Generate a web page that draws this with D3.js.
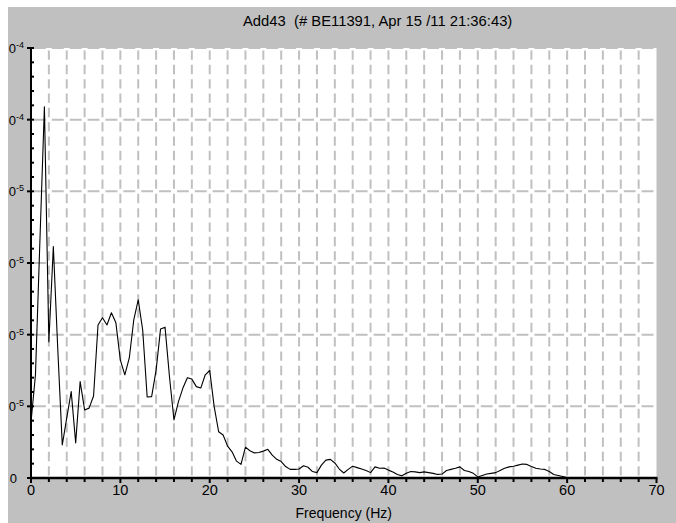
<!DOCTYPE html>
<html>
<head>
<meta charset="utf-8">
<script src="https://cdn.jsdelivr.net/npm/d3@7"></script>
<style>
  html, body { margin: 0; padding: 0; background: #ffffff; }
  svg { display: block; }
  text { font-family: "Liberation Sans", Arial, sans-serif; fill: #000; white-space: pre; }
</style>
</head>
<body>
<svg id="chart" width="676" height="523"></svg>
<script>
// ---------- data ----------
const title = "Add43  (# BE11391, Apr 15 /11 21:36:43)";
const xAxisTitle = "Frequency (Hz)";
const freqStep = 0.5; // Hz between spectrum bins
// amplitude in units of 1e-5, one value per 0.5 Hz bin from 0 to 60 Hz
const amplitude = [
  1.56, 2.88, 6.64, 10.36, 3.80, 6.46, 3.57, 0.92, 1.68, 2.41,
  0.98, 2.69, 1.90, 1.95, 2.29, 4.27, 4.47, 4.27, 4.61, 4.33,
  3.29, 2.88, 3.35, 4.41, 4.97, 4.13, 2.26, 2.27, 3.01, 4.16,
  4.21, 2.82, 1.62, 2.13, 2.51, 2.80, 2.76, 2.55, 2.51, 2.88,
  3.00, 1.99, 1.29, 1.20, 0.89, 0.73, 0.47, 0.38, 0.86, 0.76,
  0.70, 0.71, 0.75, 0.80, 0.64, 0.52, 0.46, 0.32, 0.24, 0.24,
  0.25, 0.34, 0.30, 0.18, 0.15, 0.36, 0.50, 0.52, 0.42, 0.25,
  0.14, 0.24, 0.33, 0.29, 0.25, 0.21, 0.15, 0.31, 0.27, 0.28,
  0.22, 0.17, 0.10, 0.06, 0.13, 0.18, 0.17, 0.15, 0.17, 0.15,
  0.13, 0.10, 0.11, 0.21, 0.24, 0.27, 0.31, 0.21, 0.18, 0.13,
  0.03, 0.07, 0.11, 0.13, 0.15, 0.21, 0.27, 0.31, 0.33, 0.36,
  0.39, 0.38, 0.32, 0.27, 0.25, 0.24, 0.18, 0.10, 0.07, 0.04,
  0.01
];
const frequencies = amplitude.map((_, i) => i * freqStep);
const xTicks = [0, 10, 20, 30, 40, 50, 60, 70];
const yTicks = [0, 2, 4, 6, 8, 10, 12];
// tick labels as they are visible in the panel (the leading digits are hidden at the edge)
const yTickMantissa = ["0", "0", "0", "0", "0", "0", "0"];
const yTickExponent = ["", "-5", "-5", "-5", "-5", "-4", "-4"];

// ---------- layout ----------
const W = 676, H = 523;
const svg = d3.select("#chart");
const plot = { left: 31, right: 656.5, top: 48, bottom: 478 };

const x = d3.scaleLinear().domain([0, 70]).range([plot.left, plot.right]);
const y = d3.scaleLinear().domain([0, 12]).range([plot.bottom, plot.top]);

// background
svg.append("rect").attr("x", 8).attr("y", 7).attr("width", W - 8).attr("height", H - 7)
  .attr("fill", "#c0c0c0");
svg.append("rect").attr("x", plot.left).attr("y", plot.top)
  .attr("width", plot.right - plot.left).attr("height", plot.bottom - plot.top)
  .attr("fill", "#ffffff");

const gridColor = "#c0c0c0";
const minorY = d3.range(0, 12.0001, 0.4);
const minorX = d3.range(0, 70.0001, 2);
const yStepPx = y(0) - y(0.4);
const xStepPx = x(2) - x(0);

// vertical grid lines
svg.append("g").selectAll("line").data(minorX.filter(d => d > 0 && d < 70)).join("line")
  .attr("x1", d => x(d)).attr("x2", d => x(d))
  .attr("y1", plot.bottom).attr("y2", plot.top)
  .attr("stroke", gridColor).attr("stroke-width", 2)
  .attr("stroke-dasharray", `${yStepPx - 5},5`)
  .attr("stroke-dashoffset", yStepPx - 2.5);

// horizontal grid lines
svg.append("g").selectAll("line").data(yTicks.filter(d => d > 0 && d < 12)).join("line")
  .attr("x1", plot.left).attr("x2", plot.right)
  .attr("y1", d => y(d)).attr("y2", d => y(d))
  .attr("stroke", gridColor).attr("stroke-width", 2)
  .attr("stroke-dasharray", `${xStepPx - 6},6`)
  .attr("stroke-dashoffset", -3);

// top edge dashed
svg.append("line").attr("x1", plot.left).attr("x2", plot.right)
  .attr("y1", plot.top + 0.5).attr("y2", plot.top + 0.5)
  .attr("stroke", gridColor).attr("stroke-width", 1)
  .attr("stroke-dasharray", `${xStepPx - 6},6`).attr("stroke-dashoffset", -3);

// curve
const line = d3.line().x((d, i) => x(frequencies[i])).y(d => y(d));
svg.append("path").datum(amplitude)
  .attr("d", line).attr("fill", "none").attr("stroke", "#000").attr("stroke-width", 1.1)
  .attr("stroke-linejoin", "round");

// axes lines
svg.append("line").attr("x1", plot.left).attr("x2", plot.left)
  .attr("y1", plot.top).attr("y2", plot.bottom + 1)
  .attr("stroke", "#000").attr("stroke-width", 2);
svg.append("line").attr("x1", plot.left - 1).attr("x2", plot.right + 1)
  .attr("y1", plot.bottom).attr("y2", plot.bottom)
  .attr("stroke", "#000").attr("stroke-width", 2.5);

// y ticks
svg.append("g").selectAll("line").data(minorY).join("line")
  .attr("x1", d => (Math.abs(d % 2) < 1e-6 || Math.abs(d % 2 - 2) < 1e-6) ? plot.left - 4 : plot.left)
  .attr("x2", plot.left + 3)
  .attr("y1", d => y(d)).attr("y2", d => y(d))
  .attr("stroke", "#000").attr("stroke-width", 2);

// x ticks
svg.append("g").selectAll("line").data(minorX).join("line")
  .attr("x1", d => x(d)).attr("x2", d => x(d))
  .attr("y1", plot.bottom).attr("y2", d => (d % 10 === 0) ? plot.bottom + 5 : plot.bottom + 4)
  .attr("stroke", "#000").attr("stroke-width", 2);

// x tick labels
svg.append("g").selectAll("text").data(xTicks).join("text")
  .attr("x", d => x(d)).attr("y", 495)
  .attr("text-anchor", "middle").attr("font-size", 14.5)
  .text(d => d);

// y tick labels
const ylab = svg.append("g")
  .selectAll("text").data(yTicks).join("text")
  .attr("x", (d, i) => yTickExponent[i] ? 24 : 17)
  .attr("y", d => y(d) + 5)
  .attr("text-anchor", "end").attr("font-size", 13);
ylab.append("tspan").text((d, i) => yTickMantissa[i]);
ylab.append("tspan").attr("font-size", 9).attr("dy", -5)
  .text((d, i) => yTickExponent[i]);

// title & axis title
svg.append("text").attr("x", 243).attr("y", 26).attr("font-size", 14.8).text(title);
svg.append("text").attr("x", x(35)).attr("y", 518).attr("text-anchor", "middle")
  .attr("font-size", 14).text(xAxisTitle);
</script>
</body>
</html>
